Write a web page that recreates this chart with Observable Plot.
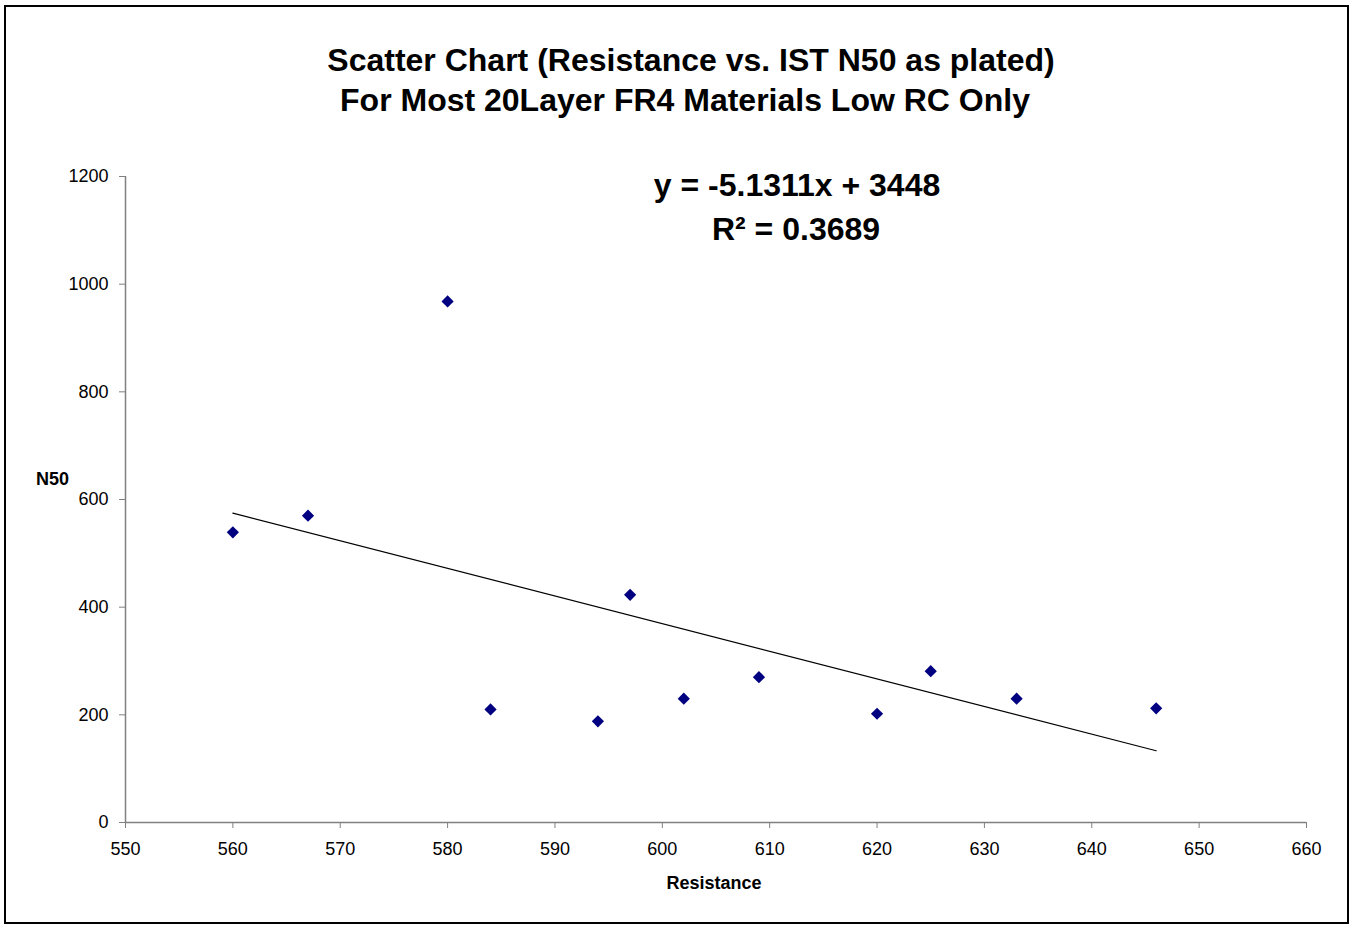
<!DOCTYPE html>
<html>
<head>
<meta charset="utf-8">
<script src="https://cdn.jsdelivr.net/npm/d3@7"></script>
<script src="https://cdn.jsdelivr.net/npm/@observablehq/plot@0.6"></script>
<style>
  html, body { margin: 0; padding: 0; background: #fff; }
  #wrap { position: relative; width: 1351px; height: 925px; }
  #border { position: absolute; left: 4px; top: 5px; width: 1345px; height: 919px; box-sizing: border-box; border: 2px solid #000; pointer-events: none; }
  svg { position: absolute; left: 0; top: 0; }
</style>
</head>
<body>
<div id="wrap"><div id="border"></div></div>
<script>
// Data
const resistance = [560, 567, 580, 584, 594, 597, 602, 609, 620, 625, 633, 646];
const n50 = [539, 570, 968, 210, 188, 423, 230, 270, 202, 281, 230, 212];
const xTicks = [550, 560, 570, 580, 590, 600, 610, 620, 630, 640, 650, 660];
const yTicks = [0, 200, 400, 600, 800, 1000, 1200];
const trendSlope = -5.1311;
const trendIntercept = 3448;
const titleLines = ["Scatter Chart (Resistance vs. IST N50 as plated)", "For Most 20Layer FR4 Materials Low RC Only"];
const equationLines = ["y = -5.1311x + 3448", "R\u00B2 = 0.3689"];

const points = resistance.map((x, i) => ({x, y: n50[i]}));
const trendEnds = [d3.min(resistance), d3.max(resistance)].map(x => ({x, y: trendSlope * x + trendIntercept}));

const font = "'Liberation Sans', Arial, Helvetica, sans-serif";
const axisGray = "#808080";

const chart = Plot.plot({
  width: 1351,
  height: 925,
  marginLeft: 125,
  marginRight: 45,
  marginTop: 176,
  marginBottom: 103,
  style: {fontFamily: font, fontSize: "18px", color: "#000", background: "transparent"},
  x: {domain: [550, 660], ticks: xTicks, label: null},
  y: {domain: [0, 1200], ticks: yTicks, label: null},
  marks: [
    Plot.axisX({ticks: xTicks, tickFormat: d => String(d), tickSize: 6, tickPadding: 14, stroke: axisGray, fill: "#000", fontSize: 18, label: null}),
    Plot.axisY({ticks: yTicks, tickFormat: d => String(d), tickSize: 6, tickPadding: 11, stroke: axisGray, fill: "#000", fontSize: 18, label: null}),
    Plot.ruleX([550], {stroke: axisGray, strokeWidth: 1.5}),
    Plot.ruleY([0], {stroke: axisGray, strokeWidth: 1.5}),
    Plot.line(trendEnds, {x: "x", y: "y", stroke: "#000", strokeWidth: 1.2}),
    Plot.dot(points, {x: "x", y: "y", symbol: "diamond2", r: 5.5, fill: "#000080", stroke: "none"}),
    // Title
    Plot.text([titleLines[0]], {frameAnchor: "top", dx: -25, dy: -116, text: d => d, fontSize: 32, fontWeight: "bold", fill: "#000", lineAnchor: "middle"}),
    Plot.text([titleLines[1]], {frameAnchor: "top", dx: -31, dy: -76, text: d => d, fontSize: 32, fontWeight: "bold", fill: "#000", lineAnchor: "middle"}),
    // Equation
    Plot.text([equationLines[0]], {frameAnchor: "top", dx: 81, dy: 9, text: d => d, fontSize: 32, fontWeight: "bold", fill: "#000", lineAnchor: "middle"}),
    Plot.text([equationLines[1]], {frameAnchor: "top", dx: 80, dy: 53, text: d => d, fontSize: 32, fontWeight: "bold", fill: "#000", lineAnchor: "middle"}),
    // Axis labels
    Plot.text(["N50"], {frameAnchor: "left", dx: -73, dy: -20, text: d => d, fontSize: 18, fontWeight: "bold", fill: "#000", textAnchor: "middle"}),
    Plot.text(["Resistance"], {frameAnchor: "bottom", dx: -2, dy: 66, text: d => d, fontSize: 18, fontWeight: "bold", fill: "#000", textAnchor: "middle"})
  ]
});
document.getElementById("wrap").prepend(chart);
</script>
</body>
</html>
